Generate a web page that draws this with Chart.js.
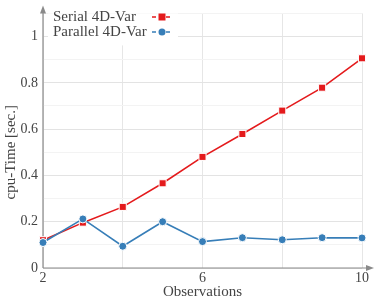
<!DOCTYPE html>
<html>
<head>
<meta charset="utf-8">
<script src="https://cdn.jsdelivr.net/npm/chart.js@4/dist/chart.umd.min.js"></script>
<style>
  html, body { margin: 0; padding: 0; background: #fff; }
  #wrap { width: 374px; height: 301px; }
</style>
</head>
<body>
<div id="wrap"><canvas id="cpuChart" width="374" height="301"></canvas></div>
<script>
// data
const observations = [2, 3, 4, 5, 6, 7, 8, 9, 10];
const serialTimes = [0.12, 0.196, 0.264, 0.366, 0.48, 0.579, 0.68, 0.779, 0.906];
const parallelTimes = [0.11, 0.212, 0.094, 0.2, 0.114, 0.131, 0.122, 0.131, 0.13];
const xTickLabels = [2, 6, 10];
const yTickLabels = [0, 0.2, 0.4, 0.6, 0.8, 1];

const RED = "#e41a1c";
const BLUE = "#377eb8";
const TEXT = "#444";
const FONT = "'Liberation Serif', 'DejaVu Serif', serif";

function toPoints(xs, ys) {
  return xs.map((x, i) => ({ x: x, y: ys[i] }));
}

// arrows on the axes, y title and the legend box
const decorations = {
  id: "decorations",
  beforeDatasetsDraw(chart) {
    const ctx = chart.ctx;
    const a = chart.chartArea;
    ctx.save();
    ctx.strokeStyle = "#8a8a8a";
    ctx.fillStyle = "#8a8a8a";
    ctx.lineWidth = 1.2;
    ctx.beginPath();
    ctx.moveTo(a.left, a.bottom);
    ctx.lineTo(a.left, a.top - 4);
    ctx.moveTo(a.left, a.bottom);
    ctx.lineTo(a.right + 8, a.bottom);
    ctx.stroke();
    ctx.beginPath();
    ctx.moveTo(a.left, a.top - 8);
    ctx.lineTo(a.left - 3, a.top);
    ctx.lineTo(a.left + 3, a.top);
    ctx.closePath();
    ctx.fill();
    ctx.beginPath();
    ctx.moveTo(a.right + 12, a.bottom);
    ctx.lineTo(a.right + 4, a.bottom - 3);
    ctx.lineTo(a.right + 4, a.bottom + 3);
    ctx.closePath();
    ctx.fill();
    ctx.restore();
  },
  afterDraw(chart) {
    const ctx = chart.ctx;
    const a = chart.chartArea;
    ctx.save();

    // y axis title
    const yScale = chart.scales.y;
    const midY = (yScale.getPixelForValue(0) + yScale.getPixelForValue(1)) / 2;
    ctx.translate(11, midY);
    ctx.rotate(-Math.PI / 2);
    ctx.fillStyle = TEXT;
    ctx.font = "15px " + FONT;
    ctx.textAlign = "center";
    ctx.textBaseline = "middle";
    ctx.fillText("cpu-Time [sec.]", 0, 0);
    ctx.restore();

    // legend
    ctx.save();
    ctx.fillStyle = "#fff";
    ctx.fillRect(a.left + 5, a.top, 130, 32);
    ctx.font = "15px " + FONT;
    ctx.textBaseline = "middle";
    chart.data.datasets.forEach((ds, i) => {
      const y = 17 + i * 15;
      ctx.fillStyle = TEXT;
      ctx.textAlign = "left";
      ctx.fillText(ds.label, 53, y);
      ctx.strokeStyle = ds.borderColor;
      ctx.lineWidth = 1.5;
      ctx.setLineDash([4, 3]);
      ctx.beginPath();
      ctx.moveTo(152, y);
      ctx.lineTo(172, y);
      ctx.stroke();
      ctx.setLineDash([]);
      ctx.fillStyle = ds.borderColor;
      ctx.beginPath();
      if (ds.pointStyle === "rect") {
        ctx.rect(158.5, y - 3.5, 7, 7);
      } else {
        ctx.arc(162, y, 3.5, 0, Math.PI * 2);
      }
      ctx.fill();
    });
    ctx.restore();
  }
};

new Chart(document.getElementById("cpuChart"), {
  type: "line",
  data: {
    datasets: [
      {
        label: "Serial 4D-Var",
        data: toPoints(observations, serialTimes),
        borderColor: RED,
        backgroundColor: RED,
        pointBackgroundColor: RED,
        pointBorderColor: "#fff",
        pointBorderWidth: 1,
        pointStyle: "rect",
        pointRadius: 5,
        borderWidth: 1.6,
        tension: 0,
        clip: false,
        order: 1
      },
      {
        label: "Parallel 4D-Var",
        data: toPoints(observations, parallelTimes),
        borderColor: BLUE,
        backgroundColor: BLUE,
        pointBackgroundColor: BLUE,
        pointBorderColor: "#fff",
        pointBorderWidth: 1,
        pointStyle: "circle",
        pointRadius: 4,
        borderWidth: 1.6,
        tension: 0,
        clip: false,
        order: 0
      }
    ]
  },
  options: {
    responsive: false,
    devicePixelRatio: 1,
    animation: false,
    layout: { padding: { top: 10, right: 12, left: 0, bottom: 0 } },
    plugins: {
      legend: { display: false },
      tooltip: { enabled: false }
    },
    scales: {
      x: {
        type: "linear",
        min: 2,
        max: 10,
        afterFit(scale) { scale.height = 33; },
        ticks: {
          stepSize: 2,
          color: TEXT,
          font: { family: FONT, size: 14 },
          padding: 2,
          maxRotation: 0,
          callback: (v) => (xTickLabels.includes(v) ? String(v) : "")
        },
        grid: { color: "#e6e6e6", drawTicks: false },
        border: { display: false },
        title: {
          display: true,
          text: "Observations",
          color: TEXT,
          font: { family: FONT, size: 15 },
          padding: { top: 0, bottom: 0 }
        }
      },
      y: {
        type: "linear",
        min: 0,
        max: 1.1,
        afterFit(scale) { scale.width = 43; },
        ticks: {
          stepSize: 0.1,
          color: TEXT,
          font: { family: FONT, size: 14 },
          padding: 5,
          callback: (v) => {
            const r = Math.round(v * 10) / 10;
            return yTickLabels.some((t) => Math.abs(t - r) < 1e-6) ? String(r) : "";
          }
        },
        grid: {
          drawTicks: false,
          color: (c) => {
            const r = Math.round(c.tick.value * 10);
            return r % 2 === 0 ? "#e3e3e3" : "#f3f3f3";
          }
        },
        border: { display: false }
      }
    }
  },
  plugins: [decorations]
});
</script>
</body>
</html>
